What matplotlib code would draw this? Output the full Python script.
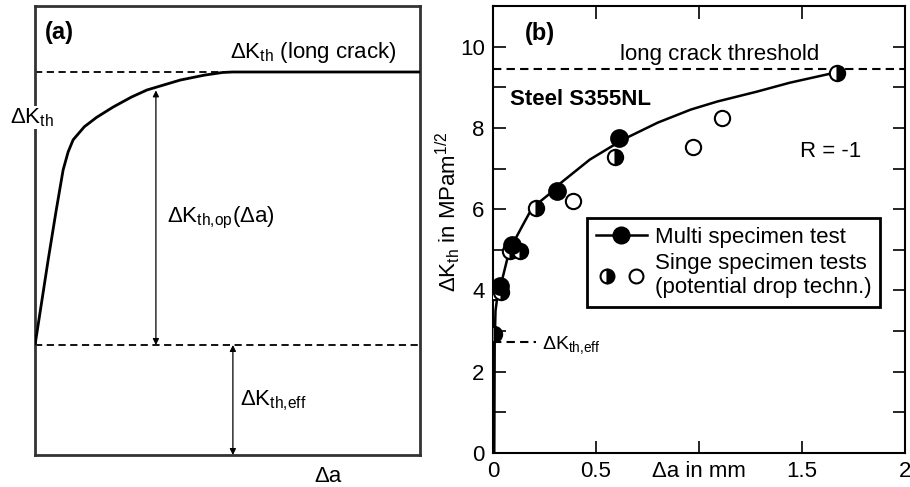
import numpy as np
import matplotlib
matplotlib.use("Agg")
import matplotlib.pyplot as plt
from matplotlib.lines import Line2D
from matplotlib.legend_handler import HandlerTuple

plt.rcParams['font.family'] = ['Liberation Sans', 'DejaVu Sans']
plt.rcParams['mathtext.fontset'] = 'custom'
plt.rcParams['mathtext.rm'] = 'Liberation Sans'
plt.rcParams['mathtext.default'] = 'regular'
plt.rcParams['font.size'] = 16

# --- (a) schematic curve, normalised coordinates
sketch_x = [0.0, 0.034, 0.055, 0.073, 0.086, 0.099, 0.128, 0.160, 0.203, 0.250, 0.291, 0.377, 0.440, 0.488, 0.514, 1.0]
sketch_y = [0.245, 0.434, 0.545, 0.635, 0.675, 0.702, 0.731, 0.752, 0.775, 0.797, 0.813, 0.835, 0.846, 0.852, 0.853, 0.853]
long_crack_level = 0.853
eff_level = 0.245

# --- (b) measured data
curve_x = [0.006, 0.008, 0.012, 0.025, 0.044, 0.08, 0.15, 0.19, 0.28, 0.33, 0.47, 0.63, 0.80, 0.96, 1.09, 1.28, 1.44, 1.67]
curve_y = [0.0, 2.7, 3.5, 4.0, 4.26, 5.0, 5.66, 6.03, 6.4, 6.65, 7.22, 7.71, 8.13, 8.45, 8.65, 8.89, 9.11, 9.37]

multi_x = [0.035, 0.09, 0.31, 0.61]
multi_y = [4.1, 5.12, 6.45, 7.75]

half_x = [0.005, 0.04, 0.08, 0.13, 0.21, 0.59, 1.67]
half_y = [2.93, 3.97, 4.98, 4.98, 6.03, 7.28, 9.35]

open_x = [0.005, 0.39, 0.97, 1.11]
open_y = [3.95, 6.21, 7.53, 8.24]

threshold_long = 9.45
threshold_eff = 2.73

xticks = [0, 0.5, 1, 1.5, 2]
xticklabels = ['0', '0.5', 'Δa in mm', '1.5', '2']

fig = plt.figure(figsize=(9.1, 4.87), dpi=100)

# ================= panel (a)
ax1 = fig.add_axes([0.0385, 0.0657, 0.423, 0.922])
ax1.set_xlim(0, 1)
ax1.set_ylim(0, 1)
ax1.set_xticks([])
ax1.set_yticks([])
for s in ax1.spines.values():
    s.set_linewidth(2)
    s.set_color('#333333')

ax1.plot(sketch_x, sketch_y, color='black', lw=2, solid_capstyle='butt',
         solid_joinstyle='round', zorder=3)
ax1.plot([0, 0.514], [long_crack_level] * 2, color='black', lw=1.3, ls=(0, (4, 2.5)))
ax1.plot([0, 1], [eff_level] * 2, color='black', lw=1.3, ls=(0, (4, 2.5)))

arw = dict(arrowstyle='<|-|>', color='black', lw=0.9, mutation_scale=9, shrinkA=0, shrinkB=0)
ax1.annotate('', xy=(0.314, 0.812), xytext=(0.314, eff_level), arrowprops=arw)
ax1.annotate('', xy=(0.514, eff_level), xytext=(0.514, 0.0), arrowprops=arw)

ax1.text(0.026, 0.926, '(a)', fontweight='bold', fontsize=17, va='baseline')
ax1.text(0.94, 0.884, r'ΔK$_{th}$ (long crack)', ha='right', va='baseline')
ax1.text(-0.065, 0.739, r'ΔK$_{th}$', va='baseline', clip_on=False,
         bbox=dict(facecolor='white', edgecolor='none', pad=0), zorder=5)
ax1.text(0.343, 0.519, r'ΔK$_{th{,}op}$(Δa)', va='baseline')
ax1.text(0.532, 0.111, r'ΔK$_{th{,}eff}$', va='baseline')
ax1.text(0.761, -0.06, 'Δa', ha='center', va='baseline', clip_on=False)

# ================= panel (b)
ax2 = fig.add_axes([0.5418, 0.0698, 0.4527, 0.918])
ax2.set_xlim(0, 2)
ax2.set_ylim(0, 11)
ax2.set_xticks(xticks)
ax2.set_xticklabels(xticklabels)
ax2.set_yticks([0, 2, 4, 6, 8, 10])
ax2.set_yticks([1, 3, 5, 7, 9], minor=True)
ax2.tick_params(which='both', direction='in', length=9, width=1.2,
                top=True, right=True, labelsize=16, pad=6)
for s in ax2.spines.values():
    s.set_linewidth(1.5)

ax2.axhline(threshold_long, color='black', lw=1.5, ls=(0, (4, 2.5)), zorder=1)
ax2.plot([0, 0.21], [threshold_eff] * 2, color='black', lw=1.5, ls=(0, (4, 2.5)))
ax2.plot(curve_x, curve_y, color='black', lw=1.8, zorder=2)

ms = 11
ax2.plot(open_x, open_y, 'o', ms=ms, mfc='white', mec='black', mew=1.5, zorder=3)
ax2.plot(half_x, half_y, 'o', ms=ms, fillstyle='right', mfc='black', mfcalt='white',
         mec='black', mew=1.5, zorder=4)
ax2.plot(multi_x, multi_y, 'o', ms=ms + 1, mfc='black', mec='black', mew=1.5, zorder=5)

ax2.text(0.155, 10.17, '(b)', fontweight='bold', fontsize=17, va='baseline')
ax2.text(1.10, 9.68, 'long crack threshold', ha='center', va='baseline')
ax2.text(0.083, 8.57, 'Steel S355NL', fontweight='bold', va='baseline')
ax2.text(1.49, 7.29, 'R = -1', va='baseline')
ax2.text(0.24, 2.55, r'ΔK$_{th{,}eff}$', fontsize=14, va='baseline')
ax2.text(-0.11, 0.54, r'ΔK$_{th}$ in MPam$^{1/2}$', rotation=90, ha='center', va='center',
         transform=ax2.transAxes)

h_multi = Line2D([], [], color='black', lw=1.8, marker='o', ms=ms + 1, mfc='black', mec='black')
h_half = Line2D([], [], ls='none', marker='o', ms=ms - 1, fillstyle='right', mfc='black',
                mfcalt='white', mec='black', mew=1.5)
h_open = Line2D([], [], ls='none', marker='o', ms=ms - 1, mfc='white', mec='black', mew=1.5)
leg = ax2.legend([h_multi, (h_half, h_open)],
                 ['Multi specimen test', 'Singe specimen tests\n(potential drop techn.)'],
                 handler_map={tuple: HandlerTuple(ndivide=None, pad=0.3)},
                 loc='upper left', bbox_to_anchor=(0.228, 0.526), borderaxespad=0,
                 frameon=True, fancybox=False, framealpha=1, edgecolor='black',
                 handlelength=2.3, handletextpad=0.35, labelspacing=0.25, borderpad=0.4,
                 fontsize=16)
leg.get_frame().set_linewidth(2)
for t in leg.get_texts():
    t.set_linespacing(1.15)

fig.savefig('out.png', dpi=100)
